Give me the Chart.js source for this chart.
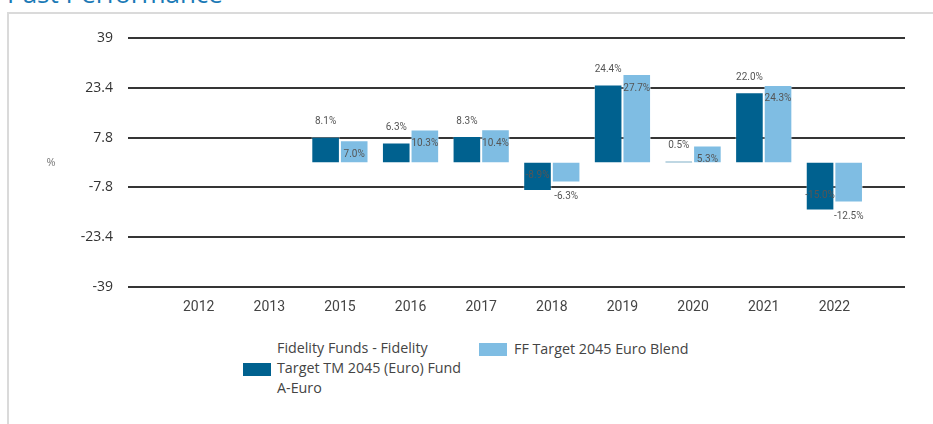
<!DOCTYPE html>
<html>
<head>
<meta charset="utf-8">
<script src="https://cdn.jsdelivr.net/npm/chart.js@4.4.0/dist/chart.umd.min.js"></script>
<style>
  html, body { margin: 0; padding: 0; background: #fff; overflow: hidden; }
  body { width: 933px; height: 424px; position: relative; font-family: "Open Sans", sans-serif; }
  #title { position: absolute; left: 7px; top: -22px; font-size: 26px; line-height: 30px; color: #1b7ab6; white-space: nowrap; }
  #frame { position: absolute; left: 7px; top: 12px; width: 960px; height: 440px; border-top: 2px solid #dadada; border-left: 2px solid #dadada; }
  #wrap { position: absolute; left: 0; top: 0; width: 933px; height: 320px; }
  .lg { position: absolute; font-size: 14.3px; line-height: 20px; color: #444; white-space: nowrap; }
  .box { position: absolute; width: 28px; height: 13px; }
</style>
</head>
<body>
<div id="title">Past Performance</div>
<div id="frame"></div>
<div id="wrap"><canvas id="perf-chart" width="933" height="320"></canvas></div>
<div id="legend"></div>

<script>
// years shown on the axis (2014 is missing in the source)
const years = ["2012", "2013", "2015", "2016", "2017", "2018", "2019", "2020", "2021", "2022"];
const fundValues = [null, null, 8.1, 6.3, 8.3, -8.9, 24.4, 0.5, 22.0, -15.0];
const blendValues = [null, null, 7.0, 10.3, 10.4, -6.3, 27.7, 5.3, 24.3, -12.5];
const yTicks = [-39, -23.4, -7.8, 7.8, 23.4, 39];
const fundName = ["Fidelity Funds - Fidelity", "Target TM 2045 (Euro) Fund", "A-Euro"];
const blendName = ["FF Target 2045 Euro Blend"];

const darkBlue = "#00618f";
const lightBlue = "#7fbde3";

// half a slot of empty room on each side of the year labels
const labels = ["", ...years, ""];
const pad = (arr) => [null, ...arr, null];

const barLabels = {
  id: "barLabels",
  afterDatasetsDraw(chart) {
    const ctx = chart.ctx;
    ctx.save();
    ctx.font = "10px Roboto, sans-serif";
    ctx.fillStyle = "#555";
    ctx.textAlign = "center";
    ctx.textBaseline = "middle";
    chart.data.datasets.forEach((ds, di) => {
      const meta = chart.getDatasetMeta(di);
      meta.data.forEach((bar, i) => {
        const v = ds.data[i];
        if (v === null) return;
        const shift = di === 0 ? -15 : 14;
        ctx.fillText(v.toFixed(1) + "%", bar.x, bar.y + shift);
      });
    });
    // "%" unit on the left
    const y = chart.scales.y.getPixelForValue(0);
    ctx.font = "11px 'Open Sans', sans-serif";
    ctx.fillStyle = "#777";
    ctx.fillText("%", 51, y);
    ctx.restore();
  }
};

const ctx = document.getElementById("perf-chart").getContext("2d");
new Chart(ctx, {
  type: "bar",
  data: {
    labels: labels,
    datasets: [
      {
        label: fundName.join(" "),
        data: pad(fundValues),
        backgroundColor: darkBlue,
        borderColor: "rgba(255,255,255,0.35)",
        borderWidth: 1,
        categoryPercentage: 0.81,
        barPercentage: 1.0
      },
      {
        label: blendName.join(" "),
        data: pad(blendValues),
        backgroundColor: lightBlue,
        borderColor: "rgba(255,255,255,0.45)",
        borderWidth: 1,
        categoryPercentage: 0.81,
        barPercentage: 1.0
      }
    ]
  },
  options: {
    responsive: false,
    animation: false,
    layout: { padding: { top: 38, right: 28, bottom: 0, left: 0 } },
    plugins: {
      legend: { display: false },
      tooltip: { enabled: false }
    },
    scales: {
      x: {
        offset: false,
        grid: { display: false },
        border: { display: false },
        ticks: {
          color: "#444",
          font: { family: "Roboto", size: 14 },
          padding: 4,
          autoSkip: false,
          maxRotation: 0
        },
        afterFit: (scale) => { scale.height = 33; }
      },
      y: {
        min: -39,
        max: 39,
        afterBuildTicks: (scale) => { scale.ticks = yTicks.map((v) => ({ value: v })); },
        grid: { color: "#353535", lineWidth: 2, drawTicks: false },
        border: { display: false },
        ticks: {
          color: "#333",
          font: { family: "Open Sans", size: 14 },
          padding: 15,
          callback: (v) => String(v)
        },
        afterFit: (scale) => { scale.width = 128; }
      }
    }
  },
  plugins: [barLabels]
});

// legend built by hand so the long fund name wraps like the original
const legend = document.getElementById("legend");
legend.innerHTML = `
  <div class="box" style="left:243px;top:363px;background:${darkBlue}"></div>
  <div class="lg" style="left:277px;top:338px">${fundName.join("<br>")}</div>
  <div class="box" style="left:479px;top:343px;background:${lightBlue}"></div>
  <div class="lg" style="left:514px;top:339px">${blendName.join("<br>")}</div>
`;
</script>
</body>
</html>
